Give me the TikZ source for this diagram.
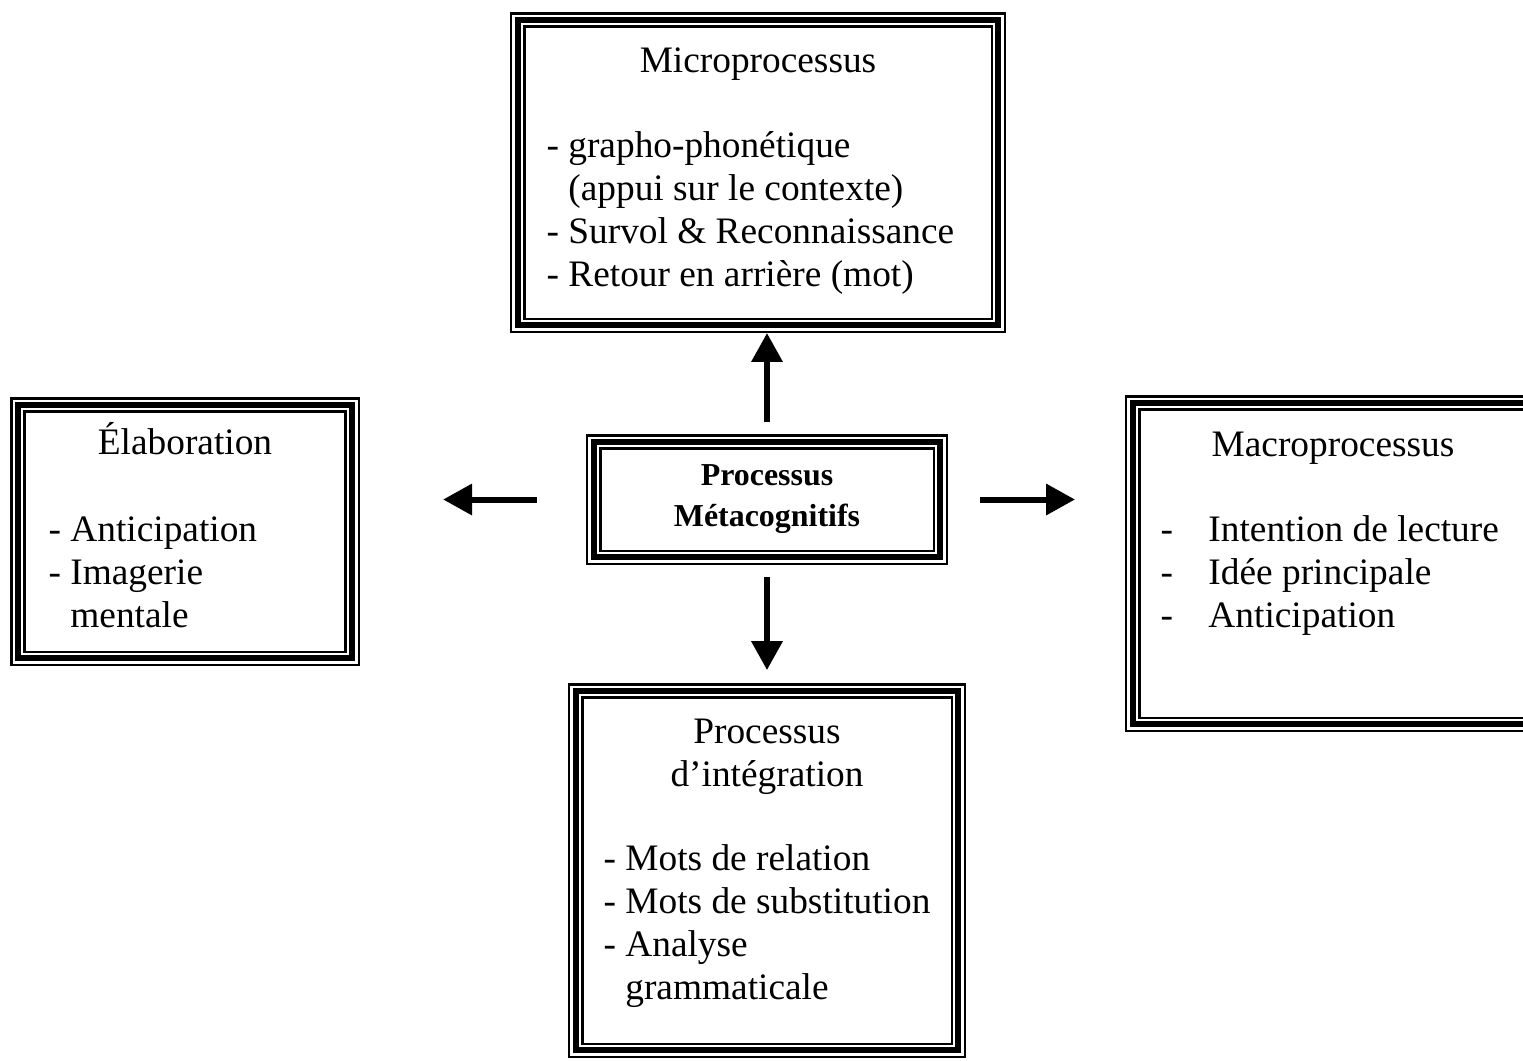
\documentclass[tikz,border=0pt]{standalone}
\usepackage{fontspec}
\setmainfont{Liberation Serif}
\usetikzlibrary{positioning,arrows.meta}

\begin{document}
\begin{tikzpicture}[
      x=0.332pt, y=-0.332pt,
      every node/.style={font=\fontsize{12.4}{14.2}\selectfont},
      tribox/.style={draw, line width=2pt, inner sep=0pt, outer sep=2.57pt,
        preaction={draw, line width=5.15pt},
        preaction={draw, white, line width=3.49pt}},
      boxtitle/.style={inner sep=0pt, anchor=base, align=center},
      boxlist/.style={inner sep=0pt, anchor=base west, align=left},
      arrow/.style={line width=2pt, -{Triangle[length=9.6pt, width=10pt]}}
    ]
      \useasboundingbox[fill=white] (0,0) rectangle (1523,1060);
      \clip (0,0) rectangle (1523,1060);
      % the five framed boxes
      \node[tribox, minimum width=159.53pt, minimum height=101.43pt] (micro) at (758,172.5) {};
      \node[tribox, minimum width=115.04pt, minimum height=38.35pt,
            font=\fontsize{10.6}{13.6}\selectfont\bfseries, align=center] (center) at (767,499.5)
            {Processus\\Métacognitifs};
      \node[tribox, minimum width=111.05pt, minimum height=84.16pt] (elab) at (185,531.5) {};
      \node[tribox, minimum width=132.97pt, minimum height=106.74pt] (macro) at (1333,563.5) {};
      \node[tribox, minimum width=126.99pt, minimum height=119.35pt] (integ) at (767,870.5) {};
      % texts (base anchor = last line)
      \node[boxtitle] (microtitle) at (758,72) {Microprocessus};
      \node[boxlist] (microlist) at (546,286) {- grapho-phonétique\\
        \phantom{- }(appui sur le contexte)\\- Survol \& Reconnaissance\\- Retour en arrière (mot)};
      \node[boxtitle] (elabtitle) at (185,454) {Élaboration};
      \node[boxlist] (elablist) at (48,627) {- Anticipation\\- Imagerie\\\phantom{- }mentale};
      \node[boxtitle] (macrotitle) at (1333,456) {Macroprocessus};
      \node[boxlist] (macrolist) at (1160,627) {\makebox[15.9pt][l]{-}Intention de lecture\\
        \makebox[15.9pt][l]{-}Idée principale\\\makebox[15.9pt][l]{-}Anticipation};
      \node[boxtitle] (integtitle) at (767,786) {Processus\\d’intégration};
      \node[boxlist] (integlist) at (603,999) {- Mots de relation\\- Mots de substitution\\
        - Analyse\\\phantom{- }grammaticale};
      % arrows
      \draw[arrow, shorten <=4pt] (center.north) -- (center.north |- micro.south);
      \draw[arrow, shorten <=4pt, shorten >=4.3pt] (center.south) -- (integ.north);
      \draw[arrow, shorten <=16.3pt, shorten >=27.6pt] (center.west) -- (center.west -| elab.east);
      \draw[arrow, shorten <=10.6pt, shorten >=16.6pt] (center.east) -- (center.east -| macro.west);
    \end{tikzpicture}
\end{document}
